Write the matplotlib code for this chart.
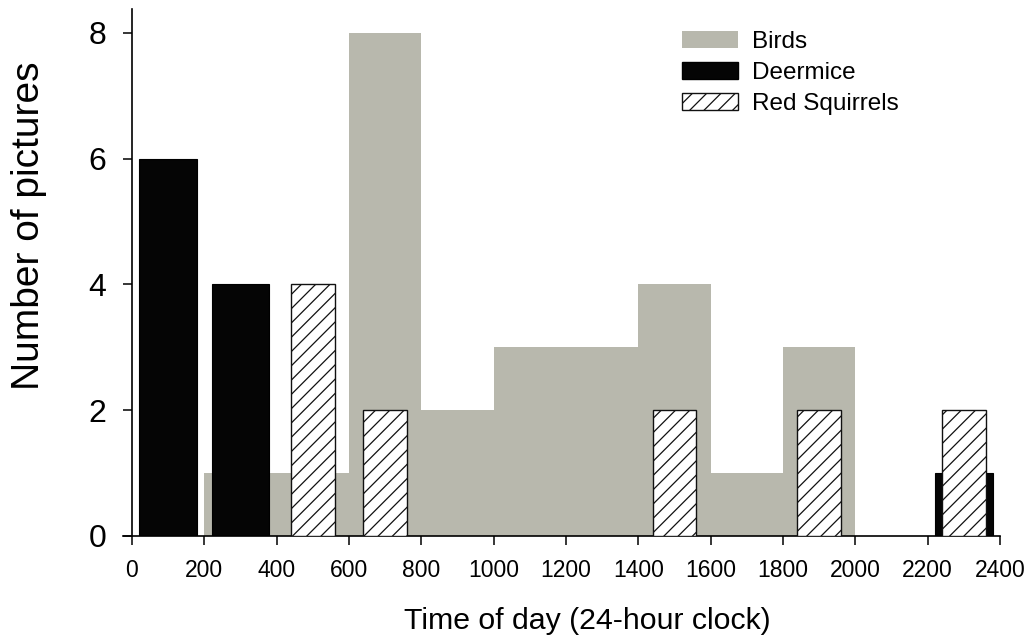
import matplotlib
matplotlib.use("Agg")
import matplotlib.pyplot as plt
from matplotlib.patches import Patch
from matplotlib.backend_bases import GraphicsContextBase

plt.rcParams['font.family'] = ['Liberation Sans', 'DejaVu Sans']
plt.rcParams['hatch.linewidth'] = 0.9

# slightly denser hatch lines than the default for '//'
_orig_hatch_path = GraphicsContextBase.get_hatch_path
GraphicsContextBase.get_hatch_path = lambda self, density=6.0: _orig_hatch_path(self, 7.0)

# Birds: histogram counts per 200-unit bin
bird_bin_edges = [0, 200, 400, 600, 800, 1000, 1200, 1400, 1600, 1800, 2000, 2200]
bird_counts = [0, 1, 1, 8, 2, 3, 3, 4, 1, 3, 0, 0]

# Deermice: bar centers and counts
mice_times = [100, 300, 2300]
mice_counts = [6, 4, 1]

# Red squirrels: bar centers and counts
squirrel_times = [500, 700, 1500, 1900, 2300]
squirrel_counts = [4, 2, 2, 2, 2]

x_ticks = [0, 200, 400, 600, 800, 1000, 1200, 1400, 1600, 1800, 2000, 2200, 2400]
y_ticks = [0, 2, 4, 6, 8]

bird_color = '#b8b8ad'

fig = plt.figure(figsize=(10.35, 6.39), dpi=100)
ax = fig.add_axes([0.1188, 0.1612, 0.9662 - 0.1188, 0.9859 - 0.1612])

ax.bar(bird_bin_edges, bird_counts, width=200, align='edge', color=bird_color,
       edgecolor='none', linewidth=0, zorder=1, label='Birds')
ax.bar(mice_times, mice_counts, width=160, color='#050505', edgecolor='#000000',
       linewidth=0.8, zorder=2, label='Deermice')
ax.bar(squirrel_times, squirrel_counts, width=120, color='white', edgecolor='#111111',
       hatch='//', linewidth=1.0, zorder=3, label='Red Squirrels')

ax.set_xlim(-25, 2400)
ax.set_ylim(0, 8.38)
ax.spines['left'].set_position(('data', 0))
ax.spines['top'].set_visible(False)
ax.spines['right'].set_visible(False)
for s in ('left', 'bottom'):
    ax.spines[s].set_linewidth(1.2)

ax.set_xticks(x_ticks)
ax.set_xticklabels([str(v) for v in x_ticks])
ax.set_yticks(y_ticks)
ax.set_yticklabels([str(v) for v in y_ticks])
ax.tick_params(axis='x', direction='out', length=6.5, width=1.1, labelsize=16.5, pad=10)
ax.tick_params(axis='y', direction='out', length=6.5, width=1.1, labelsize=23, pad=12)

ax.set_xlabel('Time of day (24-hour clock)', fontsize=21.8)
ax.set_ylabel('Number of pictures', fontsize=28)
ax.xaxis.set_label_coords(0.529, -0.135)
ax.yaxis.set_label_coords(-0.087, 0.588)

handles = [Patch(facecolor=bird_color, edgecolor='none'),
           Patch(facecolor='#050505', edgecolor='#000000'),
           Patch(facecolor='white', edgecolor='#111111', hatch='//')]
ax.legend(handles, ['Birds', 'Deermice', 'Red Squirrels'], loc='upper left',
          bbox_to_anchor=(0.613, 1.0), frameon=False, fontsize=17.5,
          handlelength=2.3, handleheight=0.72, handletextpad=0.55,
          labelspacing=0.36, borderaxespad=0.5)

fig.savefig('out.png', dpi=100)
